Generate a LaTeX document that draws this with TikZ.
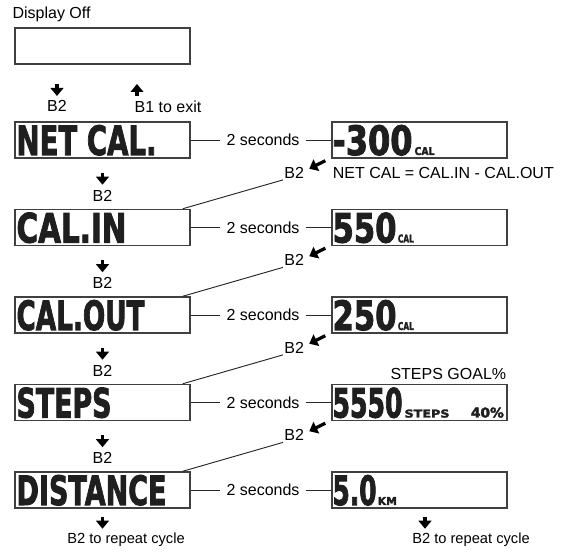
\documentclass[tikz,border=0pt]{standalone}
\usepackage{fontspec}
\setmainfont{Liberation Sans}
\newfontfamily\lcdfont[FakeBold=2.5]{DejaVu Sans}
\usepackage{graphicx}
\usetikzlibrary{arrows.meta}
\colorlet{lcdline}{black!75}
\colorlet{lcdink}{black!88}
\newlength{\pxu}
\setlength{\pxu}{0.75pt}
\newcommand{\lcd}[3]{\resizebox{#1\pxu}{#2\pxu}{\lcdfont\bfseries #3}}
\tikzset{
  lcdbox/.style={draw=lcdline, line width=1.1pt, minimum width=131.25pt, minimum height=27pt, inner sep=0pt},
  lcdtext/.style={anchor=base west, inner sep=0pt, text=lcdink},
  note/.style={font=\fontsize{12}{14}\selectfont, inner sep=1pt},
  smallnote/.style={font=\fontsize{11}{13}\selectfont, inner sep=1pt},
  wire/.style={draw=black!85, line width=0.7pt},
  bigarrow/.style={line width=2.4pt, -{Triangle[width=9.5pt,length=6pt]}},
}

\begin{document}
\begin{tikzpicture}[x=0.75pt,y=-0.75pt]
        \useasboundingbox (0,0) rectangle (561,555);
        % display off
        \node[note, anchor=west] (offtitle) at (11,14) {Display Off};
        \node[lcdbox] (off) at (102.5,46) {};
        \draw[bigarrow] (57,84) -- (57,96);
        \node[note] (offb2) at (57,106) {B2};
        \draw[bigarrow] (137,96) -- (137,84);
        \node[note] (exit) at (168,107) {B1 to exit};
        % rows
        \foreach \i/\y in {1/140,2/227.5,3/315,4/402.5,5/490}
        {
            \node[lcdbox] (l\i) at (102.5,\y) {};
            \node[lcdbox] (r\i) at (419.5,\y) {};
            \node[note, inner xsep=5pt] (s\i) at (263,\y) {2 seconds};
            \draw[wire] (l\i) -- (s\i);
            \draw[wire] (s\i) -- (r\i);
        }
        \foreach \i/\j in {1/2,2/3,3/4,4/5}
        {
            \draw[bigarrow] ([shift={(0,14)}]l\i.south) -- ++(0,12);
            \node[note] (d\i) at ([shift={(0,37)}]l\i.south) {B2};
            \draw[bigarrow] ([shift={(-6,2)}]r\i.south west) -- ([shift={(-22,10)}]r\i.south west);
            \node[note] (k\i) at ([shift={(-37,14)}]r\i.south west) {B2};
            \draw[wire] (k\i.south west) -- ([xshift=-6pt]l\j.north east);
        }
        % screen texts
        \node[lcdtext] (t1) at ([shift={(2,15)}]l1.west) {\lcd{140}{30}{NET CAL.}};
        \node[lcdtext] (t2) at ([shift={(2,15)}]l2.west) {\lcd{110}{30}{CAL.IN}};
        \node[lcdtext] (t3) at ([shift={(2,15)}]l3.west) {\lcd{128}{30}{CAL.OUT}};
        \node[lcdtext] (t4) at ([shift={(2,15)}]l4.west) {\lcd{95}{30}{STEPS}};
        \node[lcdtext] (t5) at ([shift={(2,15)}]l5.west) {\lcd{150}{30}{DISTANCE}};
        \node[lcdtext] (v1) at ([shift={(1,15)}]r1.west) {\lcd{80}{30}{-300}\hspace{1.5pt}\lcd{20}{8}{CAL}};
        \node[lcdtext] (v2) at ([shift={(1,15)}]r2.west) {\lcd{64}{30}{550}\hspace{1pt}\lcd{16}{8}{CAL}};
        \node[lcdtext] (v3) at ([shift={(1,15)}]r3.west) {\lcd{64}{30}{250}\hspace{1pt}\lcd{16}{8}{CAL}};
        \node[lcdtext] (v4) at ([shift={(1,15)}]r4.west) {\lcd{70}{30}{5550}\hspace{1.5pt}\lcd{45}{8}{STEPS}\hspace{16pt}\lcd{33}{10}{40\%}};
        \node[lcdtext] (v5) at ([shift={(1,15)}]r5.west) {\lcd{44}{30}{5.0}\hspace{1pt}\lcd{19}{8}{KM}};
        \node[note, anchor=base west] (formula) at ([shift={(0,20)}]r1.south west) {NET CAL = CAL.IN - CAL.OUT};
        \node[note, anchor=south east] (goal) at ([shift={(0,-3)}]r4.north east) {STEPS GOAL\%};
        % bottom
        \draw[bigarrow] ([shift={(0,8)}]l5.south) -- ++(0,12);
        \node[smallnote] (rep1) at (126,540) {B2 to repeat cycle};
        \draw[bigarrow] ([shift={(5.5,8)}]r5.south) -- ++(0,12);
        \node[smallnote] (rep2) at (471,540) {B2 to repeat cycle};
    \end{tikzpicture}
\end{document}
